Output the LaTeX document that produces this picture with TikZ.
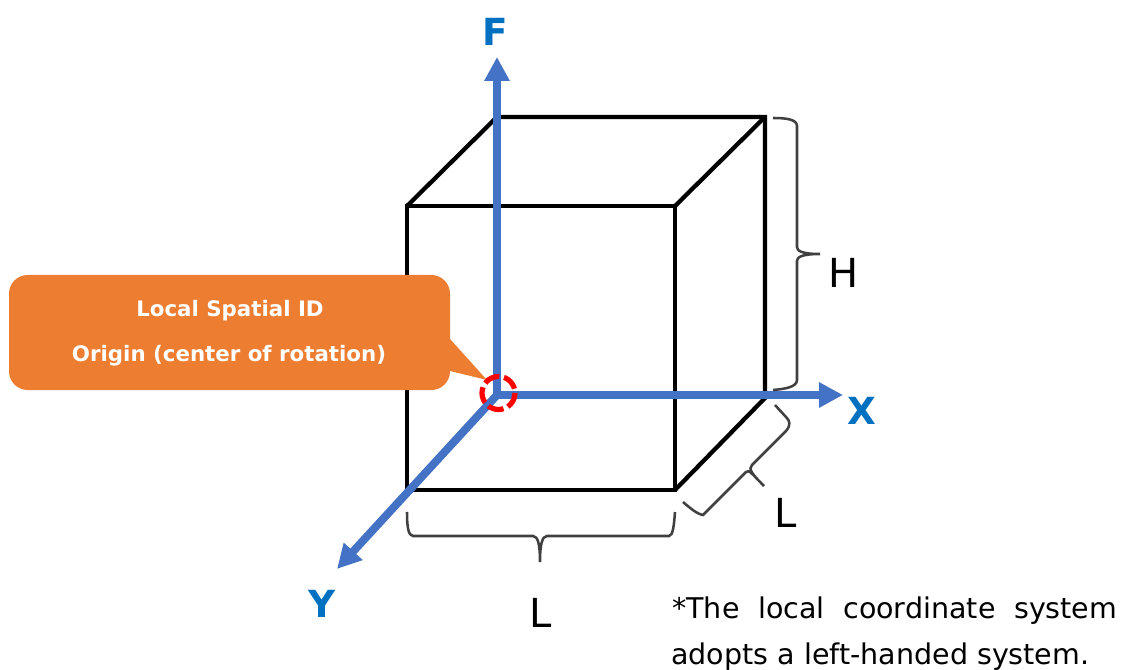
\documentclass[tikz,border=0pt]{standalone}
\usepackage{fontspec}
\setmainfont{DejaVu Sans}
\usetikzlibrary{arrows.meta}
\definecolor{axisblue}{HTML}{4472C4}
\definecolor{labelblue}{HTML}{0070C0}
\definecolor{calloutorange}{HTML}{ED7D31}
\definecolor{bracegray}{HTML}{404040}
\tikzset{
  x=0.75pt,y=-0.75pt,
  boxline/.style={draw=black,line width=3.2pt,line join=miter},
  axisline/.style={draw=axisblue,line width=6pt,-{Triangle[length=18pt,width=18pt]}},
  bracket/.style={draw=bracegray,line width=1.9pt},
  axislabel/.style={text=labelblue,inner sep=0pt,font=\fontsize{28}{30}\selectfont\bfseries},
  dimlabel/.style={text=black,inner sep=0pt,font=\fontsize{30}{32}\selectfont},
  calloutlabel/.style={text=white,inner sep=0pt,font=\fontsize{16}{20}\selectfont\bfseries},
  notelabel/.style={text=black,inner sep=0pt,anchor=west,font=\fontsize{21.4}{25}\selectfont},
}
\begin{document}
\begin{tikzpicture}
\useasboundingbox (0,0) rectangle (1121,670);
% cube
\coordinate (fa) at (407,206);
\coordinate (fb) at (675,206);
\coordinate (fc) at (675,490);
\coordinate (fd) at (407,490);
\coordinate (ba) at (497,117);
\coordinate (bb) at (765,117);
\coordinate (bc) at (765,398);
\draw[boxline] (fa) -- (fb) -- (fc) -- (fd) -- cycle;
\draw[boxline] (fa) -- (ba) -- (bb) -- (bc) -- (fc);
\draw[boxline] (fb) -- (bb);
% axes
\coordinate (o) at (497,395);
\coordinate (fend) at (497,57);
\coordinate (xend) at (843,395);
\coordinate (yend) at (337,569);
\draw[axisline] (o) -- (fend);
\draw[axisline] (o) -- (xend);
\draw[axisline] (o) -- (yend);
% callout
\fill[calloutorange,rounded corners=14pt] (9,275) rectangle (450,390);
\coordinate (tip) at (487,380);
\fill[calloutorange] (450,339) -- (tip) -- (450,371) -- cycle;
\node[calloutlabel] (c1) at (230,311) {Local Spatial ID};
\node[calloutlabel] (c2) at (229,356) {Origin (center of rotation)};
% origin marker
\draw[red,line width=3.9pt,dash pattern=on 12pt off 3.6pt] (498.5,393) circle[radius=16.5];
% braces
\draw[bracket] (773,118) .. controls (785,118) and (797,119) .. (797,126) -- (797,247)
  .. controls (797,251) and (802,254) .. (820,254)
  .. controls (802,254) and (797,257) .. (797,261) -- (797,380)
  .. controls (797,387) and (785,389) .. (773,390);
\draw[bracket] (407,512) .. controls (407,525) and (408,536) .. (413,536) -- (533,536)
  .. controls (538,536) and (540,545) .. (540,562)
  .. controls (540,545) and (542,536) .. (547,536) -- (669,536)
  .. controls (673,536) and (674,525) .. (675,512);
\draw[bracket] (683,502) .. controls (690,508) and (697,514) .. (703,515) -- (746,472)
  .. controls (749,469) and (752,474) .. (764,486)
  .. controls (752,474) and (748,469) .. (752,465) -- (786,431)
  .. controls (791,425) and (790,421) .. (786,417) -- (775,405);
% labels
\node[axislabel] (lf) at (495,32) {F};
\node[axislabel] (lx) at (862,411) {X};
\node[axislabel] (ly) at (322,604) {Y};
\node[dimlabel] (lh) at (844,273) {H};
\node[dimlabel] (ll1) at (541,613) {L};
\node[dimlabel] (ll2) at (786,513) {L};
\node[notelabel] (n1) at (672,611) {\makebox[333.75pt][s]{*The local coordinate system}};
\node[notelabel] (n2) at (671,656.5) {adopts a left-handed system.};
\end{tikzpicture}
\end{document}
